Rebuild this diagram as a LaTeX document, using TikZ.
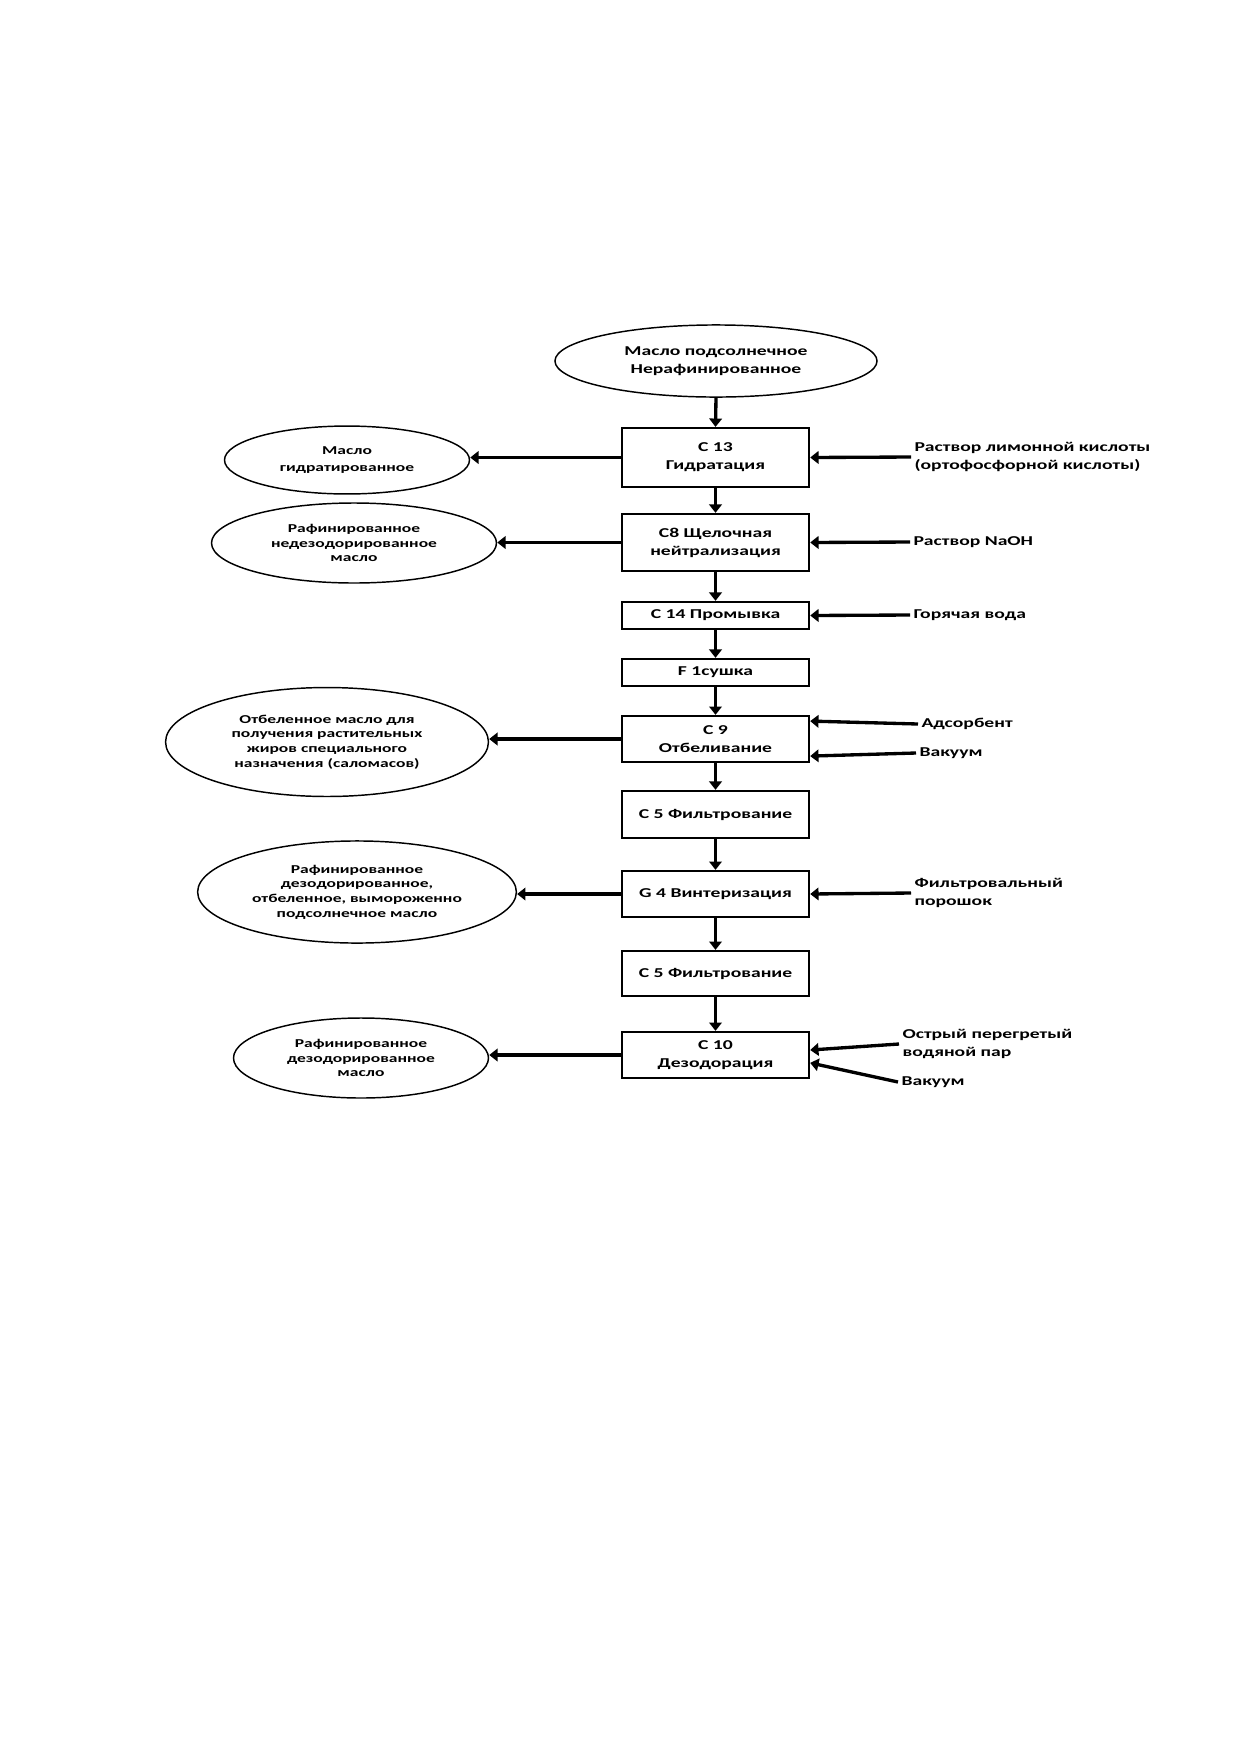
\documentclass[tikz,border=0pt]{standalone}
\usepackage{fontspec}
\setmainfont{Carlito}[FakeStretch=1.45]
\usetikzlibrary{arrows.meta,shapes.geometric}
\begin{document}
\begin{tikzpicture}[x=0.48pt,y=-0.48pt,
  mainfont/.style={font=\bfseries\fontsize{6.5pt}{8.6pt}\selectfont},
  sidefont/.style={font=\bfseries\fontsize{5.8pt}{7pt}\selectfont},
  box/.style={draw, line width=1.1pt, minimum width=89.8pt, inner sep=0pt, align=center, mainfont},
  oval/.style={draw, ellipse, line width=0.7pt, inner sep=0pt, align=center, sidefont},
  topoval/.style={draw, ellipse, line width=0.7pt, inner sep=0pt, align=center, mainfont},
  lbl/.style={anchor=west, inner sep=1.5pt, align=left, mainfont},
  arr/.style={line width=1.6pt, -{Triangle[length=4pt,width=6pt]}}]
\useasboundingbox (0,0) rectangle (1240,1754);

% main column
\node[topoval, minimum width=154.6pt, minimum height=34.6pt] (top) at (716,361) {Масло подсолнечное\\Нерафинированное};
\node[box, minimum height=28.3pt] (c13) at (715.5,457.5) {C 13\\Гидратация};
\node[box, minimum height=27.4pt] (c8) at (715.5,542.5) {C8 Щелочная\\нейтрализация};
\node[box, minimum height=13pt] (c14) at (715.5,615.5) {C 14 Промывка};
\node[box, minimum height=13pt] (f1) at (715.5,672.5) {F 1сушка};
\node[box, minimum height=22.1pt] (c9) at (715.5,739) {C 9\\Отбеливание};
\node[box, minimum height=22.6pt] (c5a) at (715.5,814.5) {C 5 Фильтрование};
\node[box, minimum height=22.1pt] (g4) at (715.5,894) {G 4 Винтеризация};
\node[box, minimum height=21.6pt] (c5b) at (715.5,973.5) {C 5 Фильтрование};
\node[box, minimum height=22.1pt] (c10) at (715.5,1055) {C 10\\Дезодорация};

\draw[arr] (top.south) -- (c13.north);
\draw[arr] (c13.south) -- (c8.north);
\draw[arr] (c8.south) -- (c14.north);
\draw[arr] (c14.south) -- (f1.north);
\draw[arr] (f1.south) -- (c9.north);
\draw[arr] (c9.south) -- (c5a.north);
\draw[arr] (c5a.south) -- (g4.north);
\draw[arr] (g4.south) -- (c5b.north);
\draw[arr] (c5b.south) -- (c10.north);

% outputs (left)
\node[oval, minimum width=117.6pt, minimum height=32.6pt] (e1) at (347,460) {Масло\\[1pt]гидратированное};
\node[oval, minimum width=136.8pt, minimum height=38.4pt] (e2) at (354,543) {Рафинированное\\недезодорированное\\масло};
\node[oval, minimum width=155pt, minimum height=52.3pt] (e3) at (327,742) {Отбеленное масло для\\получения растительных\\жиров специального\\назначения (саломасов)};
\node[oval, minimum width=153pt, minimum height=49pt] (e4) at (357,892) {Рафинированное\\дезодорированное,\\отбеленное, вымороженно\\подсолнечное масло};
\node[oval, minimum width=122.4pt, minimum height=38.4pt] (e5) at (361,1058) {Рафинированное\\дезодорированное\\масло};

\draw[arr] (c13.west) -- (c13.west -| e1.east);
\draw[arr] (c8.west) -- (c8.west -| e2.east);
\draw[arr] (c9.west) -- (c9.west -| e3.east);
\draw[arr] (g4.west) -- (g4.west -| e4.east);
\draw[arr] (c10.west) -- (c10.west -| e5.east);

% inputs (right)
\node[lbl] (i1) at (911,457) {Раствор лимонной кислоты\\(ортофосфорной кислоты)};
\node[lbl] (i2) at (910,542) {Раствор NaOH};
\node[lbl] (i3) at (910,615) {Горячая вода};
\node[lbl] (i4) at (918,724) {Адсорбент};
\node[lbl] (i5) at (916,753) {Вакуум};
\node[lbl] (i6) at (911,893) {Фильтровальный\\порошок};
\node[lbl] (i7) at (899,1044) {Острый перегретый\\водяной пар};
\node[lbl] (i8) at (898,1082) {Вакуум};

\draw[arr] (i1.west) -- (c13.east);
\draw[arr] (i2.west) -- (c8.east);
\draw[arr] (i3.west) -- (c14.east);
\draw[arr] (i4.west) -- ([yshift=8.6pt]c9.east);
\draw[arr] (i5.west) -- ([yshift=-8.2pt]c9.east);
\draw[arr] (i6.west) -- (g4.east);
\draw[arr] (i7.west) -- ([yshift=2.4pt]c10.east);
\draw[arr] (i8.west) -- ([yshift=-3.8pt]c10.east);
\end{tikzpicture}
\end{document}
